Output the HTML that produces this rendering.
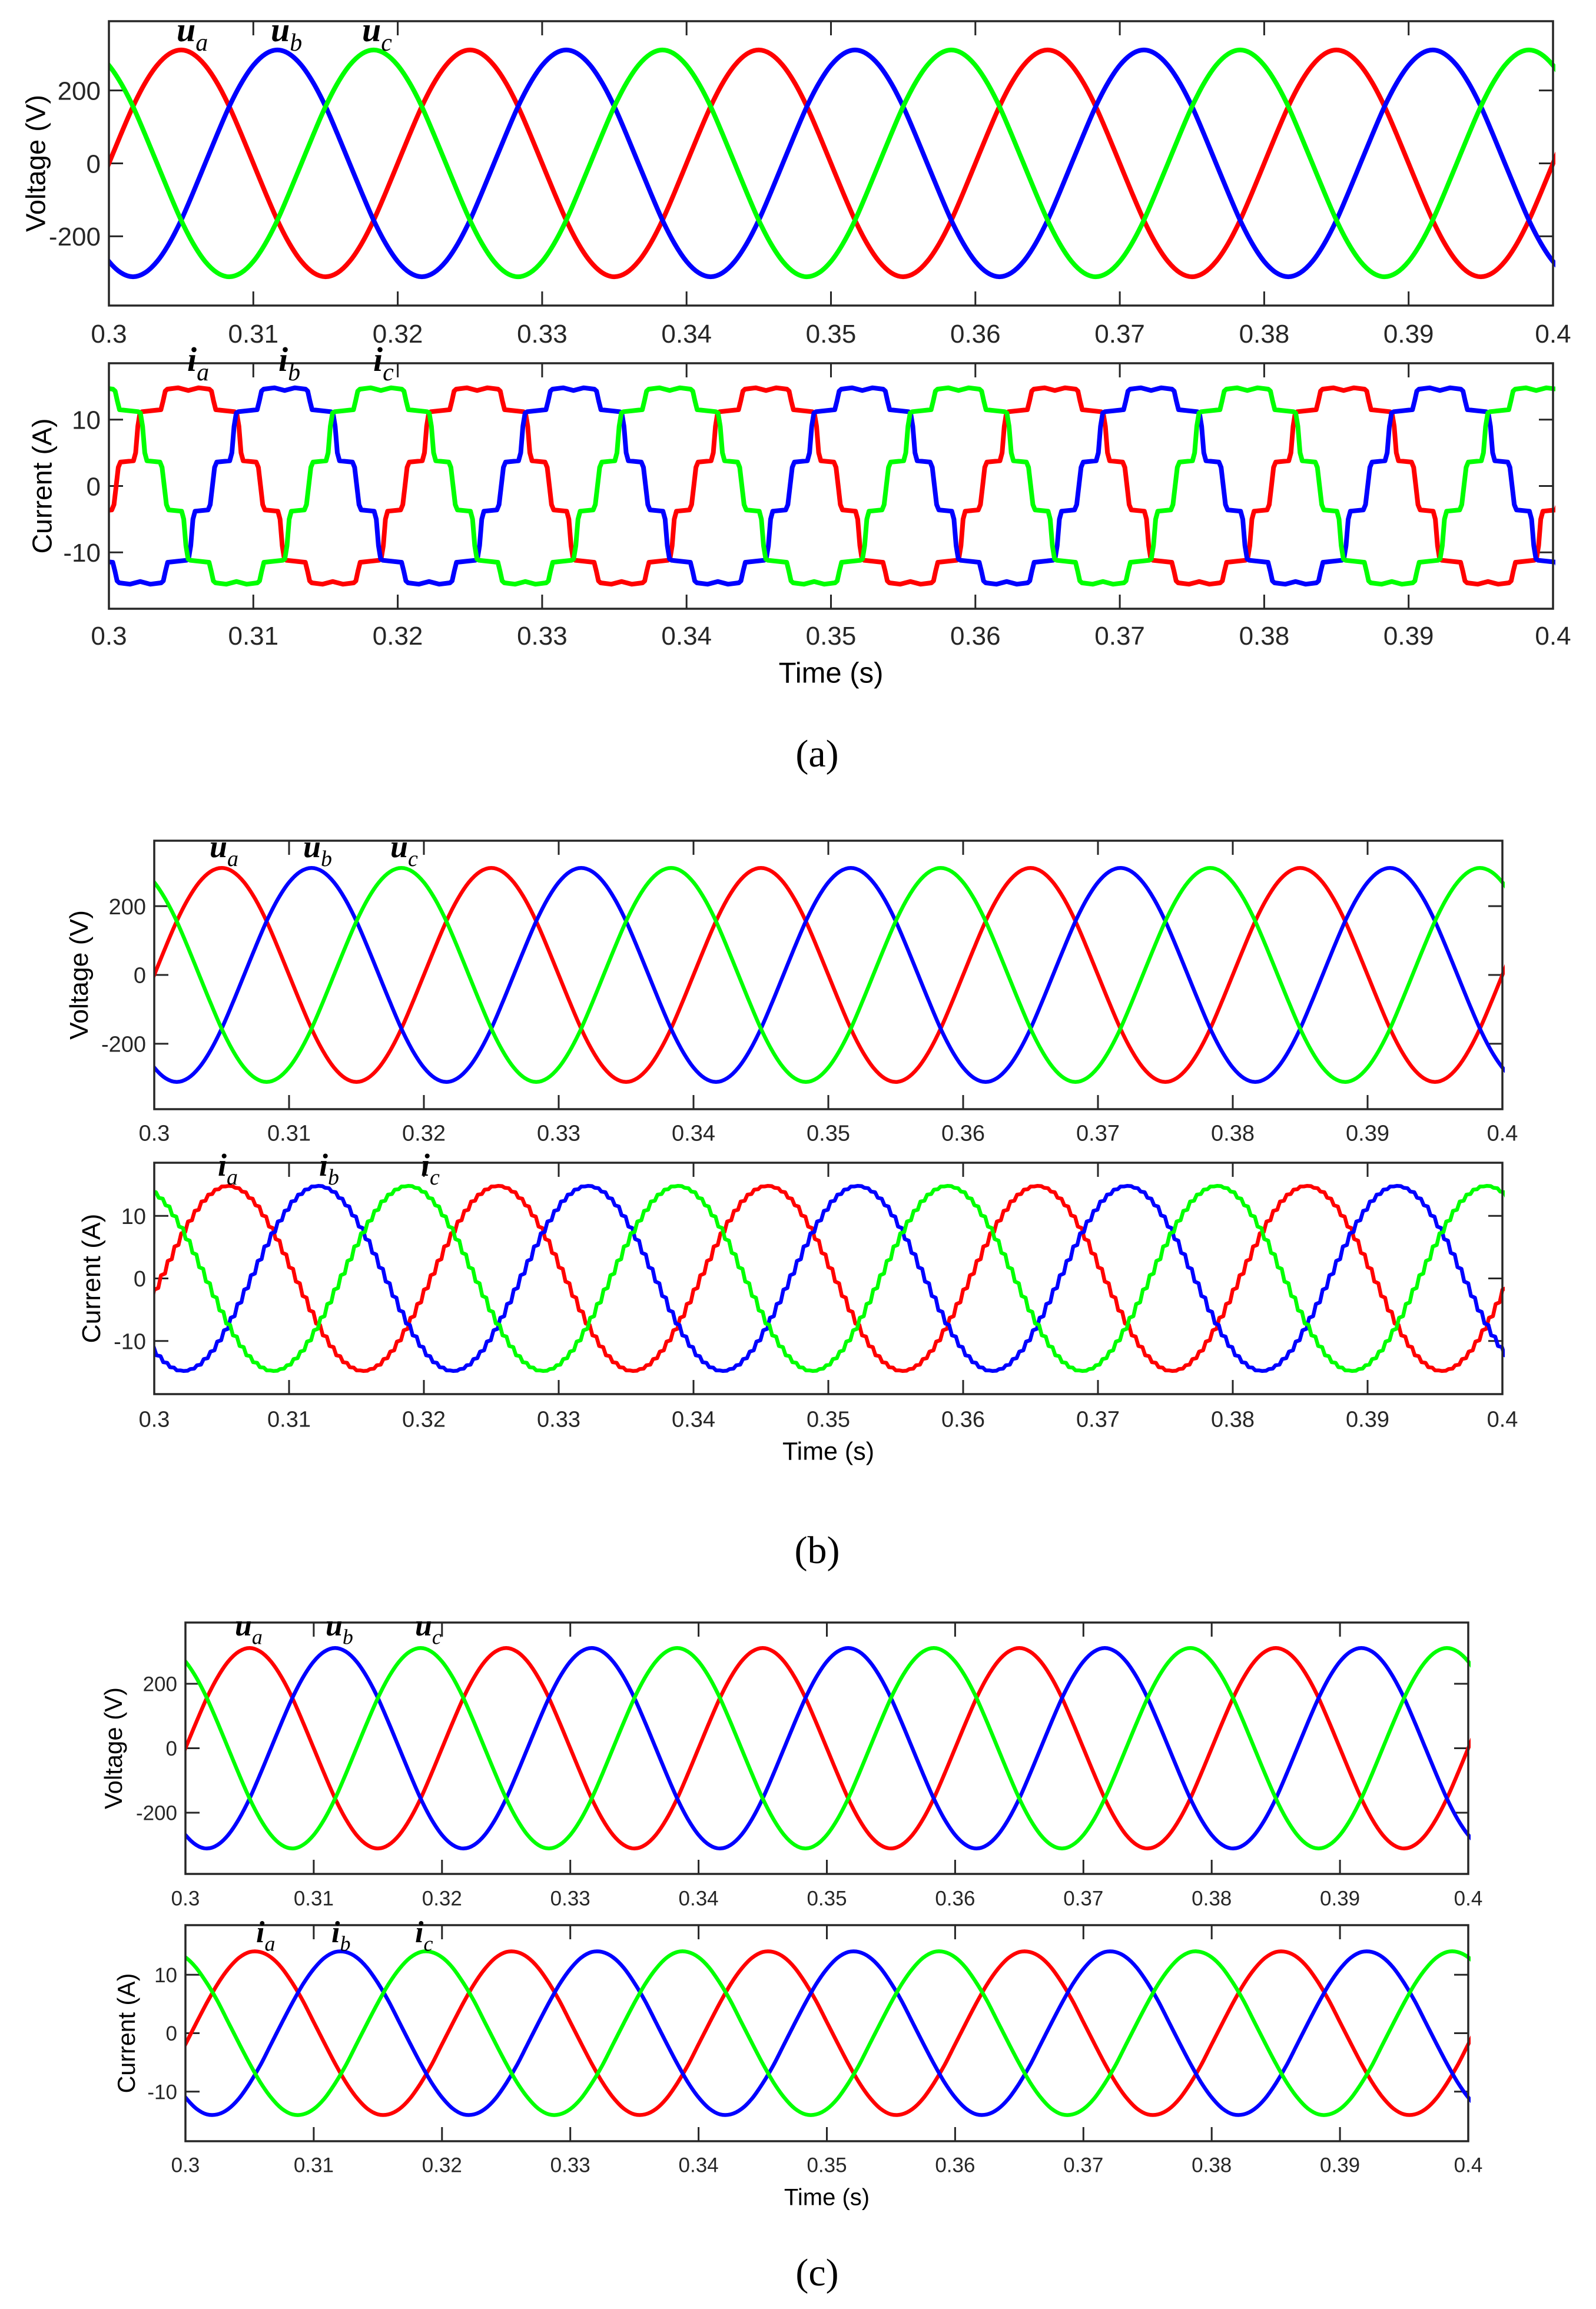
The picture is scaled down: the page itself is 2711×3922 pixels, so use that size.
<!DOCTYPE html>
<html><head><meta charset="utf-8">
<style>
html,body{margin:0;padding:0;background:#fff;}
svg{display:block;}
text{font-family:"Liberation Sans",sans-serif;}
.serif{font-family:"Liberation Serif",serif;}
</style></head>
<body>
<svg id="fig" xmlns="http://www.w3.org/2000/svg" width="2711" height="3922" viewBox="0 0 2711 3922">
<rect width="2711" height="3922" fill="#fff"/>
</svg>
<script>
// ---------- DATA ----------
const xTickValues = [0.3,0.31,0.32,0.33,0.34,0.35,0.36,0.37,0.38,0.39,0.4];
const xTickLabels = ["0.3","0.31","0.32","0.33","0.34","0.35","0.36","0.37","0.38","0.39","0.4"];
const vTickValues = [-200,0,200];
const vTickLabels = ["-200","0","200"];
const iTickValues = [-10,0,10];
const iTickLabels = ["-10","0","10"];
const phaseNames = ["a","b","c"];
const phaseDelayMs = [0, 6.667, 13.333];
const cyclePeriodMs = 20;

const voltCycleT = [0,0.833,1.667,2.5,3.333,4.167,5,5.833,6.667,7.5,8.333,9.167,10,10.833,11.667,12.5,13.333,14.167,15,15.833,16.667,17.5,18.333,19.167];
const voltCycleV = [0,80,156,220,269,300,311,300,269,220,156,80,0,-80,-156,-220,-269,-300,-311,-300,-269,-220,-156,-80];

const curACycleT = [0.5,0.65,0.8,1.7,1.85,2.0,2.15,2.3,3.6,3.75,3.9,4.05,4.8,5.5,6.2,6.95,7.1,7.25,7.4,8.7,8.85,9.0,9.15,9.3,10.2,10.35,10.5,10.65,10.8,11.7,11.85,12.0,12.15,12.3,13.6,13.75,13.9,14.05,14.8,15.5,16.2,16.95,17.1,17.25,17.4,18.7,18.85,19.0,19.15,19.3,20.2,20.35];
const curACycleV = [0,2.8,3.6,3.8,5,9,11,11.2,11.5,12.8,14.3,14.6,14.8,14.4,14.8,14.6,14.3,12.8,11.5,11.2,11,9,5,3.8,3.6,2.8,0,-2.8,-3.6,-3.8,-5,-9,-11,-11.2,-11.5,-12.8,-14.3,-14.6,-14.8,-14.4,-14.8,-14.6,-14.3,-12.8,-11.5,-11.2,-11,-9,-5,-3.8,-3.6,-2.8];

const curBCycleT = [0,0.5,1,1.5,2,2.5,3,3.5,4,4.5,5,5.5,6,6.5,7,7.5,8,8.5,9,9.5,10,10.5,11,11.5,12,12.5,13,13.5,14,14.5,15,15.5,16,16.5,17,17.5,18,18.5,19,19.5];
const curBCycleV = [-1.8,0.5,2.8,5.1,7.2,9.1,10.8,12.3,13.4,14.2,14.7,14.8,14.5,13.9,12.9,11.7,10.1,8.3,6.3,4.1,1.8,-0.5,-2.8,-5.1,-7.2,-9.1,-10.8,-12.3,-13.4,-14.2,-14.7,-14.8,-14.5,-13.9,-12.9,-11.7,-10.1,-8.3,-6.3,-4.1];

const curCCycleT = [0,0.833,1.667,2.5,3.333,4.167,5,5.833,6.667,7.5,8.333,9.167,10,10.833,11.667,12.5,13.333,14.167,15,15.833,16.667,17.5,18.333,19.167];
const curCCycleV = [-1.9,1.7,5.2,8.4,11.0,12.9,13.9,13.9,13.0,11.2,8.6,5.5,1.9,-1.7,-5.2,-8.4,-11.0,-12.9,-13.9,-13.9,-13.0,-11.2,-8.6,-5.5];

// ---------- LAYOUT ----------
const NS = "http://www.w3.org/2000/svg";
const svg = document.getElementById("fig");
const colors = ["#ff0000","#0000ff","#00ff00"];

const panels = [
 {id:"a", x0:185, x1:2638, lw:8, tickFs:44, yLabFs:46, ann:58, annSub:42,
  v:{top:36,bot:519,lab:[60,233],xlabY:566,annX:[300,460,615],annY:70},
  c:{top:617,bot:1034,lab:[71,230],xlabY:1079,annX:[318,473,634],annY:630},
  timeY:1143, capY:1280},
 {id:"b", x0:262, x1:2552, lw:6.5, tickFs:38, yLabFs:44, ann:54, annSub:38,
  v:{top:1428,bot:1884,lab:[133,220],xlabY:1924,annX:[356,515,663],annY:1456},
  c:{top:1975,bot:2368,lab:[154,220],xlabY:2410,annX:[370,542,715],annY:1997},
  timeY:2465, capY:2633},
 {id:"c", x0:315, x1:2494, lw:6.5, tickFs:35, yLabFs:42, ann:52, annSub:36,
  v:{top:2756,bot:3183,lab:[192,207],xlabY:3224,annX:[399,553,705],annY:2778},
  c:{top:3270,bot:3637,lab:[214,204],xlabY:3677,annX:[435,563,705],annY:3299},
  timeY:3732, capY:3860}
];
const vLim = 390, iLim = 18.5;

function el(tag, attrs, parent){
  const e = document.createElementNS(NS, tag);
  for (const k in attrs) e.setAttribute(k, attrs[k]);
  (parent||svg).appendChild(e);
  return e;
}
function makeX(p){ return t => p.x0 + (t-0.3)/0.1*(p.x1-p.x0); }
function makeY(box, lim){ return v => box.top + (lim - v)/(2*lim)*(box.bot-box.top); }

function buildSeries(cycT, cycV, delayMs){
  const pts = [];
  for (let c=-2; c<=6; c++){
    for (let k=0;k<cycT.length;k++){
      const t = 0.3 + (c*cyclePeriodMs + cycT[k] + delayMs)/1000;
      if (t>0.295 && t<0.405) pts.push([t, cycV[k]]);
    }
  }
  pts.sort((a,b)=>a[0]-b[0]);
  return pts;
}
function smoothPath(P){
  let d = "M"+P[0][0].toFixed(1)+","+P[0][1].toFixed(1);
  for (let i=0;i<P.length-1;i++){
    const p0=P[Math.max(0,i-1)], p1=P[i], p2=P[i+1], p3=P[Math.min(P.length-1,i+2)];
    const c1x=p1[0]+(p2[0]-p0[0])/6, c1y=p1[1]+(p2[1]-p0[1])/6;
    const c2x=p2[0]-(p3[0]-p1[0])/6, c2y=p2[1]-(p3[1]-p1[1])/6;
    d += "C"+c1x.toFixed(1)+","+c1y.toFixed(1)+" "+c2x.toFixed(1)+","+c2y.toFixed(1)+" "+p2[0].toFixed(1)+","+p2[1].toFixed(1);
  }
  return d;
}
function linePath(P){ return "M"+P.map(p=>p[0].toFixed(1)+","+p[1].toFixed(1)).join("L"); }
function stairPath(series, X, Y){
  const P=[];
  for (let i=0;i<series.length;i++){
    const [t,v]=series[i];
    P.push([X(t),Y(v)]);
    if (i<series.length-1){
      const dt = series[i+1][0]-t;
      const tm = t+dt*0.6;
      const vm = v + (series[i+1][1]-v)*0.12;
      P.push([X(tm),Y(vm)]);
    }
  }
  return linePath(P);
}

function drawAxes(p, box, lim, tickVals, tickLabs, label, idp){
  const X = makeX(p), Y = makeY(box, lim);
  const g = el("g",{});
  
  
  const tl = 24;
  xTickValues.forEach((t,i)=>{
    const x = X(t);
    const tk = el("path",{d:`M${x},${box.bot}V${box.bot-tl}M${x},${box.top}V${box.top+tl}`,stroke:"#262626","stroke-width":3,fill:"none"},g);
    
    
    const tx = el("text",{x:x,y:box.xlabY + p.tickFs*0.36,"text-anchor":"middle","font-size":p.tickFs,fill:"#262626"},g);
    tx.textContent = xTickLabels[i];
    
    
  });
  tickVals.forEach((v,i)=>{
    const y = Y(v);
    const tk = el("path",{d:`M${p.x0},${y}H${p.x0+tl}M${p.x1},${y}H${p.x1-tl}`,stroke:"#262626","stroke-width":3,fill:"none"},g);
    
    
    const tx = el("text",{x:p.x0-14,y:y+p.tickFs*0.36,"text-anchor":"end","font-size":p.tickFs,fill:"#262626"},g);
    tx.textContent = tickLabs[i];
    
    
  });
  const cy = (box.top+box.bot)/2;
  const yl = el("text",{x:0,y:0,"text-anchor":"middle","font-size":p.yLabFs,fill:"#000",
     textLength:box.lab[1],lengthAdjust:"spacingAndGlyphs",
     transform:`translate(${box.lab[0]+p.yLabFs*0.36},${cy}) rotate(-90)`},g);
  yl.textContent = label;
  
  
  return {X,Y};
}

function drawFrame(p, box, idp){
  const r = el("rect",{x:p.x0,y:box.top,width:p.x1-p.x0,height:box.bot-box.top,fill:"none",stroke:"#262626","stroke-width":3.5});
  
  
}

function drawAnn(p, box, letter, idp){
  for (let i=0;i<3;i++){
    const t = el("text",{x:box.annX[i],y:box.annY,"font-size":p.ann,"font-style":"italic","font-weight":"bold",fill:"#000",class:"serif"});
    t.textContent = letter;
    const s = el("tspan",{dy:p.ann*0.28,"font-size":p.annSub,"font-weight":"normal"},t);
    s.textContent = phaseNames[i];
    
    
  }
}

panels.forEach((p,pi)=>{
  const idp = "panel-"+p.id;
  ["v","c"].forEach(k=>{
    const box = p[k];
    const cp = el("clipPath",{id:`clip-${p.id}-${k}`});
    el("rect",{x:p.x0,y:box.top-10,width:p.x1-p.x0+4,height:box.bot-box.top+20},cp);
  });
  const va = drawAxes(p, p.v, vLim, vTickValues, vTickLabels, "Voltage (V)", idp+"-voltage");
  const gv = el("g",{"clip-path":`url(#clip-${p.id}-v)`});
  
  
  for (let s=0;s<3;s++){
    const ser = buildSeries(voltCycleT, voltCycleV, phaseDelayMs[s]);
    const P = ser.map(q=>[va.X(q[0]), va.Y(q[1])]);
    const path = el("path",{d:smoothPath(P),fill:"none",stroke:colors[s],"stroke-width":p.lw,"stroke-linejoin":"round"},gv);
    
    
  }
  drawFrame(p, p.v, idp+"-voltage");
  drawAnn(p, p.v, "u", idp+"-voltage");

  const ca = drawAxes(p, p.c, iLim, iTickValues, iTickLabels, "Current (A)", idp+"-current");
  const gc = el("g",{"clip-path":`url(#clip-${p.id}-c)`});
  
  
  for (let s=0;s<3;s++){
    let d;
    if (p.id==="a"){
      const ser = buildSeries(curACycleT, curACycleV, phaseDelayMs[s]);
      d = linePath(ser.map(q=>[ca.X(q[0]), ca.Y(q[1])]));
    } else if (p.id==="b"){
      const ser = buildSeries(curBCycleT, curBCycleV, phaseDelayMs[s]);
      d = stairPath(ser, ca.X, ca.Y);
    } else {
      const ser = buildSeries(curCCycleT, curCCycleV, phaseDelayMs[s]);
      d = smoothPath(ser.map(q=>[ca.X(q[0]), ca.Y(q[1])]));
    }
    const path = el("path",{d:d,fill:"none",stroke:colors[s],"stroke-width":p.lw,"stroke-linejoin":"round"},gc);
    
    
  }
  drawFrame(p, p.c, idp+"-current");
  drawAnn(p, p.c, "i", idp+"-current");

  const tt = el("text",{x:(p.x0+p.x1)/2,y:p.timeY+p.tickFs*0.38,"text-anchor":"middle","font-size":p.tickFs+5,fill:"#000"});
  tt.textContent = "Time (s)";
  
  

  const cap = el("text",{x:1388,y:p.capY+22,"text-anchor":"middle","font-size":66,fill:"#000",class:"serif"});
  cap.textContent = "("+p.id+")";
  
  
});
</script>
</body></html>
